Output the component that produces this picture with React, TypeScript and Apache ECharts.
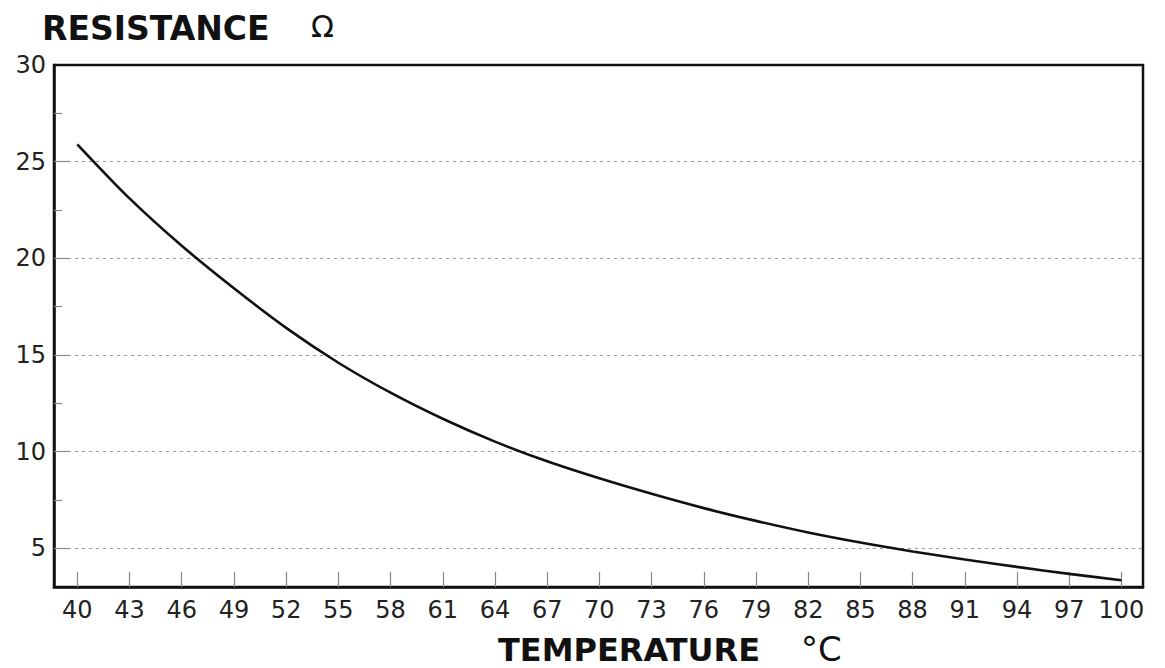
import React, { useEffect, useRef } from "react";
import * as echarts from "echarts";

const temperatures = [40, 43, 46, 49, 52, 55, 58, 61, 64, 67, 70, 73, 76, 79, 82, 85, 88, 91, 94, 97, 100];
const resistance = [25.9, 23.1, 20.65, 18.45, 16.4, 14.6, 13.05, 11.7, 10.52, 9.5, 8.62, 7.82, 7.08, 6.42, 5.82, 5.3, 4.84, 4.42, 4.04, 3.68, 3.35];
const xTickValues = [40, 43, 46, 49, 52, 55, 58, 61, 64, 67, 70, 73, 76, 79, 82, 85, 88, 91, 94, 97, 100];
const yLabelValues = [5, 10, 15, 20, 25, 30];
const yMajorTicks = [5, 10, 15, 20, 25];
const yMinorTicks = [7.5, 12.5, 17.5, 22.5, 27.5];
const yTitle = "RESISTANCE";
const yUnit = "Ω";
const xTitle = "TEMPERATURE";
const xUnit = "°C";

const FONT = '"DejaVu Sans", "Liberation Sans", Arial, sans-serif';

export default function App() {
  const ref = useRef<HTMLDivElement>(null);
  useEffect(() => {
    if (!ref.current) return;
    const chart = echarts.init(ref.current, null, { renderer: "svg" });
    const gridRect = { left: 54, right: 22, top: 65, bottom: 81 };
    chart.setOption({
      animation: false,
      backgroundColor: "#ffffff",
      grid: [
        { ...gridRect, show: true, borderColor: "#111", borderWidth: 2.5, backgroundColor: "transparent" },
        { ...gridRect },
      ],
      xAxis: [
        {
          type: "value",
          gridIndex: 0,
          min: 38.66,
          max: 101.24,
          axisLine: { show: true, lineStyle: { color: "#111", width: 2.5 } },
          axisTick: { show: true, inside: true, length: 15, customValues: xTickValues, lineStyle: { color: "#888", width: 1.2 } },
          axisLabel: { customValues: xTickValues, fontSize: 24, fontFamily: FONT, color: "#222", margin: 11 },
          splitLine: { show: false },
        },
        { type: "value", gridIndex: 1, min: 38.66, max: 101.24, show: false },
      ],
      yAxis: [
        {
          type: "value",
          gridIndex: 0,
          min: 3,
          max: 30,
          axisLine: { show: true, lineStyle: { color: "#111", width: 2.5 } },
          axisTick: { show: true, inside: true, length: 15, customValues: yMajorTicks, lineStyle: { color: "#888", width: 1.2 } },
          axisLabel: { customValues: yLabelValues, fontSize: 24, fontFamily: FONT, color: "#222", margin: 8, padding: [0, 0, 8, 0] },
          splitLine: { show: true, lineStyle: { color: "#999", width: 1.2, type: [3, 4] } },
        },
        {
          type: "value",
          gridIndex: 1,
          min: 3,
          max: 30,
          axisLine: { show: false },
          axisTick: { show: true, inside: true, length: 8, customValues: yMinorTicks, lineStyle: { color: "#888", width: 1.2 } },
          axisLabel: { show: false },
          splitLine: { show: false },
        },
      ],
      series: [
        {
          type: "line",
          xAxisIndex: 0,
          yAxisIndex: 0,
          data: temperatures.map((t, i) => [t, resistance[i]]),
          smooth: 0.3,
          symbol: "none",
          lineStyle: { color: "#111", width: 2.6 },
        },
      ],
      graphic: [
        { type: "text", x: 42, y: 28, style: { text: yTitle, fontFamily: FONT, fontSize: 33, fontWeight: "bold", fill: "#111", verticalAlign: "middle", align: "left" } },
        { type: "text", x: 311, y: 26, style: { text: yUnit, fontFamily: FONT, fontSize: 30, fill: "#111", verticalAlign: "middle", align: "left" } },
        { type: "text", x: 498, y: 650, style: { text: xTitle, fontFamily: FONT, fontSize: 32, fontWeight: "bold", fill: "#111", verticalAlign: "middle", align: "left" } },
        { type: "text", x: 801, y: 649, style: { text: xUnit, fontFamily: FONT, fontSize: 34, fill: "#111", verticalAlign: "middle", align: "left" } },
      ],
    });
    return () => chart.dispose();
  }, []);
  return <div ref={ref} style={{ position: "absolute", left: 0, top: 0, width: 1165, height: 668 }} />;
}
